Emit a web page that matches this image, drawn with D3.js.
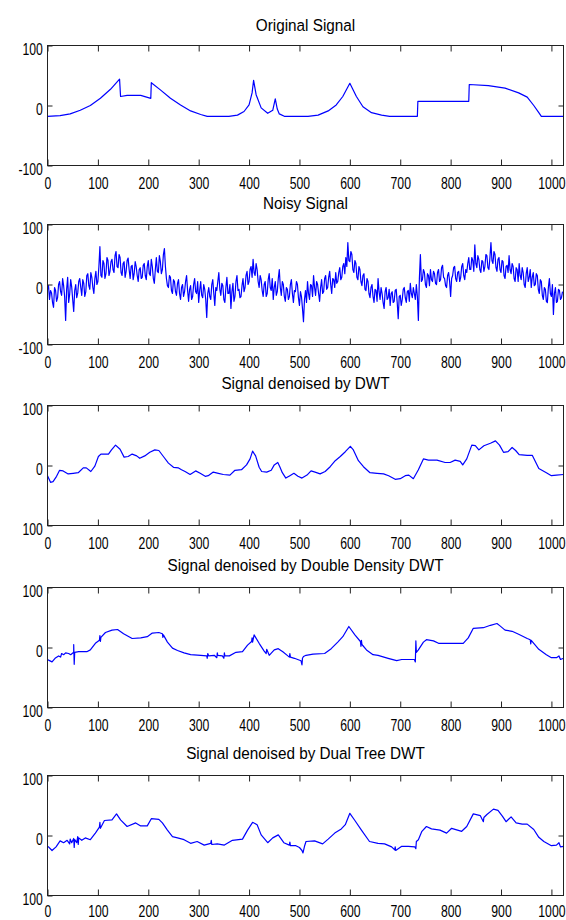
<!DOCTYPE html>
<html>
<head>
<meta charset="utf-8">
<script src="https://cdn.jsdelivr.net/npm/d3@7"></script>
<style>
  body { margin: 0; background: #fff; }
  text { font-family: "Liberation Sans", Arial, sans-serif; fill: #000; }
</style>
</head>
<body>
<div id="my_dataviz"></div>
<script>
// Dane
var titles = ["Original Signal", "Noisy Signal", "Signal denoised by DWT",
  "Signal denoised by Double Density DWT", "Signal denoised by Dual Tree DWT"]

var xTickValues = [0, 100, 200, 300, 400, 500, 600, 700, 800, 900, 1000]
var xTickLabels = ["0", "100", "200", "300", "400", "500", "600", "700", "800", "900", "1000"]
var yTickValues = [-100, 0, 100]
var yTickLabelsFull = ["-100", "0", "100"]
var yTickLabelsCut = ["100", "0", "100"]   // minus obciety na obrazku

// sygnal oryginalny [probka, wartosc]
var originalSignal = [[0,-18],[25,-17],[45,-14],[65,-8],[85,0],[105,12],[125,27],[143,44],[145,15],[158,17],
  [185,17],[205,12],[206,38],[224,26],[244,12],[264,1],[284,-9],[304,-15],[317,-18],[360,-18],
  [377,-16],[390,-10],[400,1],[406,21],[409,42],[414,18],[424,-4],[437,-13],[447,-8],[452,11],
  [456,-6],[460,-14],[470,-18],[517,-18],[537,-16],[557,-9],[573,1],[586,15],[600,37],[613,15],
  [626,-2],[643,-12],[663,-16],[679,-18],[734,-18],[735,7],[836,7],[837,35],[875,33],[908,29],
  [935,21],[952,14],[965,0],[975,-12],[980,-18],[1024,-18]]

// sygnal zaszumiony, co 2 probki
var noisyStep = 2
var noisySignal = [
  -8, -2, -25, -10, -14, -30, -38, -5, -10, -28, -22, 0, 5, -12, -18, 10, -2, -20, -60, -8, 12, -30, -16, 8, -4, -25, -45, -10, 0, -22, -14, 5,
  10, -5, -18, 8, 2, -20, -12, 15, 18, -2, -8, 20, 12, -5, -15, 10, 22, 0, 5, 30, 63, 15, 12, 40, 35, 10, 18, 45, 40, 15, 22, 38,
  42, 25, 20, 48, 55, 30, 28, 50, 45, 20, 15, 35, 38, 12, 22, 40, 44, 25, 10, 30, 32, 8, 18, 38, 30, 15, 5, 25, 28, 10, 12, 32,
  35, 15, 8, 30, 40, 18, 15, 42, 30, 10, 2, 25, 45, 22, 20, 48, 38, 18, 25, 50, 60, 30, 10, -2, -5, 15, 12, -10, -15, 8, 5, -12,
  -18, 2, 8, -15, -25, -5, 0, -20, -12, 5, 15, -10, -28, -8, -2, -25, -20, 0, 10, -12, -15, 5, -30, -10, 5, -18, -22, 0, -8, -25, -55, -15,
  -5, -20, -25, 0, 8, -15, -35, -5, -10, 5, 20, -8, -18, 2, -2, -25, -30, -5, 12, -15, -15, 0, -40, -12, 2, -28, -20, 5, 15, -10, -8, -22,
  -20, -2, 10, -12, -5, 15, 22, 0, 5, 25, 30, 12, 42, 20, 15, 35, 25, 5, -5, 15, 8, -10, -20, 0, 5, -20, -15, 8, 18, -5, -10, 10,
  -25, -5, 5, -18, -12, 10, 25, -5, -18, 5, 0, -20, -28, -5, -8, -25, -20, 0, 8, -15, -30, -10, -12, 5, 0, -22, -35, -12, -20, -40, -62, -25,
  -10, -30, 5, -15, -25, 0, -2, -20, 15, -5, -18, 5, 0, -15, -28, -5, 8, -15, -12, 10, 15, -8, -5, 12, 22, 0, -15, 10, 8, -5, 20, 2,
  5, 20, 28, 8, 12, 30, 35, 18, 45, 30, 70, 40, 38, 55, 50, 25, 20, 40, 35, 12, 8, 30, 25, 5, -2, 15, 18, -8, -10, 10, 5, -15,
  -22, -5, 0, -20, -30, -8, -10, -28, 10, -12, -25, -5, -15, -30, -40, -12, -5, -25, -22, -8, -35, -15, -12, -30, -28, -10, -8, -30, -57, -20, -18, -35,
  -25, -8, -5, -22, -30, -12, -10, -28, 2, -15, -22, -5, -15, -25, 0, -20, -60, 10, 50, 5, 8, 25, 20, 0, -5, 18, 15, -2, 25, 8, 5, 22,
  18, 2, 0, 20, 25, 5, 8, 28, 32, 12, 10, -2, -5, 15, 20, 5, -20, 10, 15, 28, 30, 10, 5, 20, 22, 5, 12, 30, 35, 15, 8, 25,
  20, 35, 45, 25, 25, 45, 40, 22, 66, 35, 28, 48, 42, 25, 20, 40, 38, 22, 30, 50, 48, 28, 25, 45, 70, 40, 35, 55, 50, 28, 22, 42,
  45, 25, 20, 40, 38, 15, 10, 30, 32, 20, 48, 25, 18, 35, 30, 10, 5, 28, 25, 5, 35, 15, 8, 28, 20, 0, -5, 18, 28, 5, 12, 25,
  -5, 12, 20, -2, 0, 18, 15, -8, -15, 8, 5, -18, -25, -5, -8, -28, -30, -5, 10, -15, -20, 0, -50, -15, -5, -30, -28, -8, -10, -25, -22, -12]

var dwtSignal = [[0,-17],[6,-28],[11,-27],[18,-18],[24,-8],[31,-9],[41,-14],[51,-13],[61,-12],[71,-4],
  [77,-4],[86,-10],[94,-1],[101,15],[106,19],[121,19],[127,26],[135,34],[144,27],[152,14],
  [160,15],[168,19],[177,16],[183,12],[193,16],[203,22],[213,26],[221,25],[230,15],[240,4],
  [250,-3],[260,-4],[266,-7],[273,-10],[283,-15],[294,-9],[303,-13],[313,-18],[319,-17],[329,-11],
  [339,-13],[349,-15],[362,-16],[372,-8],[385,-7],[395,1],[402,11],[407,24],[413,16],[420,-3],
  [425,-10],[435,-11],[444,-8],[450,1],[457,5],[461,-2],[466,-12],[473,-21],[481,-17],[489,-13],
  [497,-18],[505,-21],[515,-16],[523,-9],[531,-11],[541,-14],[551,-10],[561,-2],[571,8],[581,15],
  [591,23],[601,32],[607,26],[617,8],[627,-2],[640,-12],[654,-13],[667,-14],[677,-17],[690,-23],
  [700,-22],[710,-17],[717,-16],[726,-22],[736,-7],[746,11],[756,9],[773,9],[789,5],[799,5],
  [809,9],[819,7],[824,1],[832,11],[842,34],[849,33],[856,26],[866,33],[879,37],[889,41],
  [897,34],[905,22],[914,23],[922,30],[929,25],[936,18],[952,17],[962,17],[975,-5],[990,-12],
  [1000,-17],[1010,-16],[1024,-15]]

var doubleDensitySignal = [[0,-20],[2,-21],[9,-24],[15,-18],[22,-14],[26,-16],[28,-10],[32,-12],[36,-9],[42,-10],
  [46,-12],[52,-8],[52,5],[53,-28],[54,-8],[62,-7],[78,-7],[85,-4],[95,7],[103,12],
  [104,20],[105,10],[106,17],[115,25],[128,29],[139,30],[151,23],[168,15],[185,16],[198,18],
  [208,24],[221,25],[228,23],[229,17],[230,21],[238,9],[248,-1],[258,-5],[271,-9],[284,-12],
  [304,-13],[316,-14],[317,-18],[318,-10],[320,-14],[331,-13],[336,-17],[337,-9],[338,-13],[347,-14],
  [350,-18],[351,-9],[352,-14],[361,-14],[374,-8],[387,-7],[397,4],[405,10],[406,16],[407,9],
  [410,21],[420,7],[430,-6],[434,-10],[435,-3],[440,-13],[450,-4],[458,-2],[467,-7],[477,-14],
  [480,-16],[481,-10],[482,-16],[490,-18],[503,-22],[505,-29],[506,-18],[508,-15],[513,-13],[527,-11],
  [550,-10],[563,-2],[576,9],[586,18],[598,35],[610,21],[621,10],[622,2],[623,12],[624,5],
  [633,-4],[646,-12],[656,-13],[676,-18],[693,-22],[703,-20],[716,-20],[728,-20],[730,-24],[731,11],
  [732,-8],[736,-4],[746,9],[752,13],[766,11],[776,7],[795,7],[812,7],[825,7],[835,16],
  [845,32],[865,33],[879,37],[892,40],[898,36],[908,29],[922,27],[935,22],[952,15],[958,13],
  [959,6],[960,12],[975,-3],[990,-12],[1000,-17],[1010,-17],[1015,-14],[1018,-20],[1024,-18]]

var dualTreeSignal = [[0,-18],[2,-19],[9,-25],[17,-19],[25,-9],[32,-12],[39,-8],[44,-14],[45,-6],[48,-12],
  [52,-5],[53,-20],[54,-7],[58,-12],[60,-2],[61,-15],[62,-4],[68,-8],[75,-4],[85,-7],
  [95,4],[103,14],[104,22],[105,12],[113,25],[128,26],[137,36],[145,26],[158,15],[175,21],
  [185,16],[198,16],[206,28],[221,27],[228,21],[238,9],[248,-2],[258,-4],[271,-7],[284,-13],
  [297,-10],[311,-16],[324,-13],[325,-8],[326,-15],[337,-14],[351,-16],[367,-8],[387,-6],[397,9],
  [407,22],[416,18],[424,1],[437,-12],[447,-4],[458,1],[469,-12],[480,-16],[481,-11],[482,-17],
  [493,-17],[500,-20],[505,-25],[507,-29],[510,-18],[513,-10],[530,-9],[546,-14],[557,-6],[570,4],
  [583,11],[591,18],[600,37],[610,25],[623,9],[639,-10],[656,-13],[669,-14],[683,-19],[689,-24],
  [690,-19],[691,-25],[703,-18],[716,-18],[729,-19],[731,-22],[732,-10],[736,-7],[743,7],[752,15],
  [762,11],[779,9],[792,4],[802,12],[822,7],[832,15],[845,36],[859,33],[865,23],[866,30],
  [872,35],[885,44],[894,42],[903,32],[910,23],[920,31],[930,21],[942,19],[952,19],[965,10],
  [975,-3],[985,-10],[1000,-17],[1010,-16],[1015,-12],[1018,-19],[1024,-18]]

// Wymiary
var width = 566
var height = 920
var left = 47.5, right = 563.5
var panelTop = [45.5, 224.5, 405.5, 587.5, 775.5]
var panelH = 120
var titleY = [25, 203.5, 383.5, 565, 753.5]
var labelPad = [11, 11, 11, 11, 9]

var panels = [
  { title: titles[0], data: originalSignal, yLabels: yTickLabelsFull },
  { title: titles[1], data: noisySignal.map(function(v, i) { return [i * noisyStep, v] }), yLabels: yTickLabelsFull },
  { title: titles[2], data: dwtSignal, yLabels: yTickLabelsCut },
  { title: titles[3], data: doubleDensitySignal, yLabels: yTickLabelsCut },
  { title: titles[4], data: dualTreeSignal, yLabels: yTickLabelsCut }
]

var svg = d3.select("#my_dataviz")
  .append("svg")
    .attr("width", width)
    .attr("height", height)

var x = d3.scaleLinear().domain([0, 1024]).range([left, right])

panels.forEach(function(p, i) {
  var top = panelTop[i]
  var bottom = top + panelH
  var y = d3.scaleLinear().domain([-100, 100]).range([bottom, top])
  var g = svg.append("g")

  // tytul
  g.append("text")
    .attr("transform", "translate(" + ((left + right) / 2) + "," + titleY[i] + ") scale(0.9,1)")
    .attr("text-anchor", "middle")
    .attr("dy", "0.35em")
    .style("font-size", "17px")
    .text(p.title)

  // linia sygnalu
  var line = d3.line()
    .x(function(d) { return x(d[0]) })
    .y(function(d) { return y(d[1]) })
  g.append("path")
    .datum(p.data)
    .attr("d", line)
    .attr("fill", "none")
    .attr("stroke", "#0000ff")
    .attr("stroke-width", 1.2)
    .attr("stroke-linejoin", "round")

  // osie
  var xb = g.append("g")
    .attr("transform", "translate(0," + bottom + ")")
    .call(d3.axisBottom(x).tickValues(xTickValues)
      .tickFormat(function(d, j) { return xTickLabels[j] })
      .tickSizeInner(-6).tickSizeOuter(0).tickPadding(labelPad[i]))
  xb.selectAll("text").attr("transform", "scale(0.72,1)")

  g.append("g")
    .attr("transform", "translate(0," + top + ")")
    .call(d3.axisTop(x).tickValues(xTickValues).tickFormat("")
      .tickSizeInner(-6).tickSizeOuter(0))

  var yl = g.append("g")
    .attr("transform", "translate(" + left + ",0)")
    .call(d3.axisLeft(y).tickValues(yTickValues)
      .tickFormat(function(d, j) { return p.yLabels[j] })
      .tickSizeInner(-5).tickSizeOuter(0).tickPadding(4.6))
  yl.selectAll("text")
    .attr("x", -4.6 / 0.72)
    .attr("dy", "0.5em")
    .attr("transform", "scale(0.72,1)")

  g.append("g")
    .attr("transform", "translate(" + right + ",0)")
    .call(d3.axisRight(y).tickValues([0]).tickFormat("")
      .tickSizeInner(-5).tickSizeOuter(0))

  g.selectAll(".domain").remove()
  g.selectAll(".tick line").attr("stroke", "#222")
  g.selectAll(".tick text").style("font-size", "17px").style("font-family", "'Liberation Sans', Arial, sans-serif").attr("fill", "#000")

  // ramka
  g.append("rect")
    .attr("x", left)
    .attr("y", top)
    .attr("width", right - left)
    .attr("height", panelH)
    .attr("fill", "none")
    .attr("stroke", "#222")
    .attr("stroke-width", 1)
})
</script>
</body>
</html>
